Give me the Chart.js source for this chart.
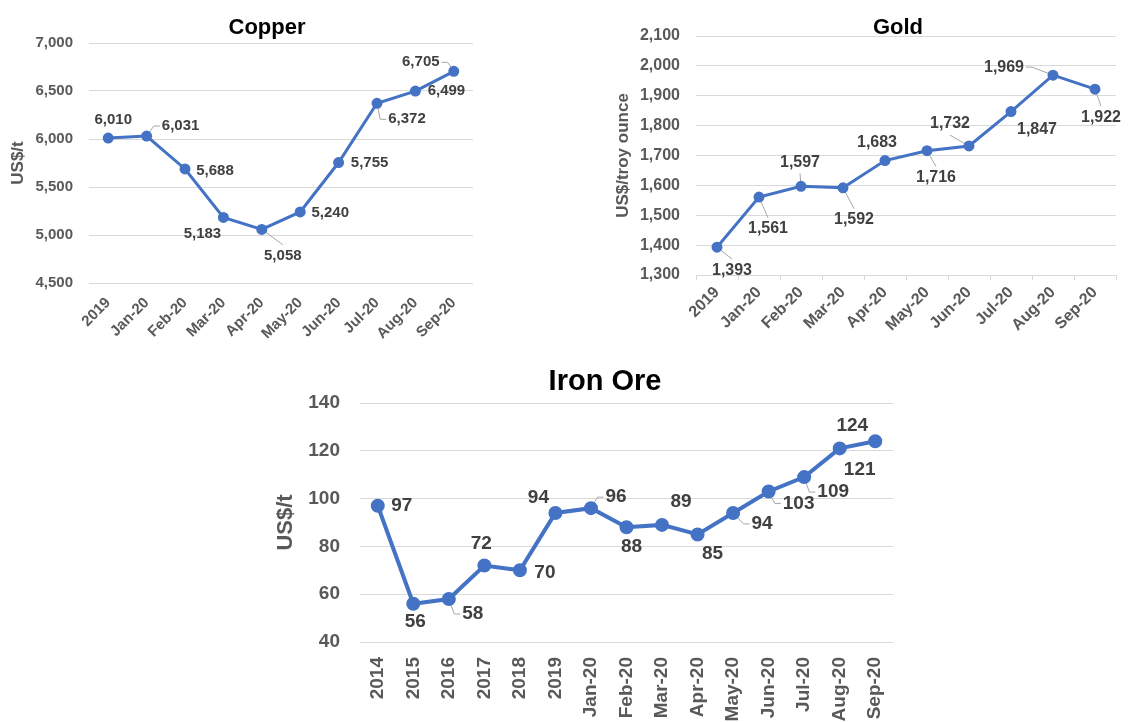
<!DOCTYPE html>
<html>
<head>
<meta charset="utf-8">
<script src="https://cdn.jsdelivr.net/npm/chart.js@4"></script>
<style>
  html, body { margin: 0; padding: 0; background: #fff; width: 1128px; height: 722px; overflow: hidden; position: relative; }
  canvas { position: absolute; }
  #copperChart { left: 0; top: 0; }
  #goldChart { left: 600px; top: 0; }
  #ironChart { left: 260px; top: 360px; }
</style>
</head>
<body>
<canvas id="copperChart" width="534" height="345"></canvas>
<canvas id="goldChart" width="596" height="345"></canvas>
<canvas id="ironChart" width="690" height="362"></canvas>
<script>
const monthLabels = ["2019", "Jan-20", "Feb-20", "Mar-20", "Apr-20", "May-20", "Jun-20", "Jul-20", "Aug-20", "Sep-20"];
const copperValues = [6010, 6031, 5688, 5183, 5058, 5240, 5755, 6372, 6499, 6705];
const goldValues = [1393, 1561, 1597, 1592, 1683, 1716, 1732, 1847, 1969, 1922];
const ironLabels = ["2014", "2015", "2016", "2017", "2018", "2019", "Jan-20", "Feb-20", "Mar-20", "Apr-20", "May-20", "Jun-20", "Jul-20", "Aug-20", "Sep-20"];
const ironValues = [97, 56, 58, 72, 70, 94, 96, 88, 89, 85, 94, 103, 109, 121, 124];

const copperTicks = [4500, 5000, 5500, 6000, 6500, 7000];
const goldTicks = [1300, 1400, 1500, 1600, 1700, 1800, 1900, 2000, 2100];
const ironTicks = [40, 60, 80, 100, 120, 140];

// where each value label sits relative to its point (dx, dy) and whether it has a leader line
const copperLabelPos = [[5, -18], [34, -10], [30, 2], [-21, 16], [21, 26], [30, 1], [31, 0], [30, 16], [31, 0], [-33, -9]];
const copperLeaders = [0, 1, 0, 0, 1, 0, 0, 1, 0, 1];
const goldLabelPos = [[15, 23], [9, 32], [-1, -24], [11, 32], [-8, -18], [9, 27], [-19, -22], [26, 18], [-49, -8], [6, 28]];
const goldLeaders = [1, 1, 1, 1, 0, 1, 1, 0, 1, 1];
const ironLabelPos = [[24, 0], [2, 18], [24, 15], [-3, -22], [25, 2], [-17, -15], [25, -11], [5, 19], [19, -23], [15, 19], [29, 11], [30, 12], [29, 15], [20, 21], [-23, -15]];
const ironLeaders = [0, 0, 1, 0, 0, 0, 1, 0, 0, 0, 1, 1, 1, 0, 0];

const FONT = "'Liberation Sans', Arial, sans-serif";
const BLUE = "#4472C4";
const GREY = "#595959";

function valueLabels(offsets, leaders, size) {
  function each(chart, fn) {
    const ctx = chart.ctx;
    const meta = chart.getDatasetMeta(0);
    const values = chart.data.datasets[0].data;
    ctx.save();
    ctx.font = "bold " + size + "px " + FONT;
    meta.data.forEach((pt, i) => {
      const text = values[i].toLocaleString("en-US");
      fn(ctx, pt, text, pt.x + offsets[i][0], pt.y + offsets[i][1], i);
    });
    ctx.restore();
  }
  return {
    id: "valueLabels",
    beforeDatasetsDraw(chart) {
      // leader lines go under the markers
      each(chart, (ctx, pt, text, cx, cy, i) => {
        if (!leaders[i]) return;
        const hw = ctx.measureText(text).width / 2;
        const hh = size * 0.45;
        ctx.strokeStyle = "#a6a6a6";
        ctx.lineWidth = 1;
        ctx.beginPath();
        if (pt.x >= cx - hw - 3 && pt.x <= cx + hw + 3) {
          const ty = pt.y < cy ? cy - hh - 4 : cy + hh + 4;
          ctx.moveTo(pt.x, pt.y);
          ctx.lineTo(cx, ty);
        } else {
          const side = pt.x < cx ? -1 : 1;
          const edge = cx + side * (hw + 2);
          const stub = edge + side * 6;
          ctx.moveTo(pt.x, pt.y);
          ctx.lineTo(stub, cy);
          ctx.lineTo(edge, cy);
        }
        ctx.stroke();
      });
    },
    afterDatasetsDraw(chart) {
      each(chart, (ctx, pt, text, cx, cy) => {
        ctx.textAlign = "center";
        ctx.textBaseline = "middle";
        ctx.fillStyle = "#404040";
        ctx.fillText(text, cx, cy);
      });
    }
  };
}

function buildChart(id, o) {
  return new Chart(document.getElementById(id), {
    type: "line",
    data: {
      labels: o.labels,
      datasets: [{
        data: o.values,
        borderColor: BLUE,
        backgroundColor: BLUE,
        borderWidth: o.lineWidth,
        pointRadius: o.pointRadius,
        pointHoverRadius: o.pointRadius,
        tension: 0
      }]
    },
    options: {
      responsive: false,
      animation: false,
      locale: "en-US",
      layout: { padding: 0 },
      plugins: {
        legend: { display: false },
        tooltip: { enabled: false },
        title: {
          display: true,
          text: o.title,
          color: "#000",
          font: { family: FONT, size: o.titleSize, weight: "bold" },
          padding: o.titlePad
        }
      },
      scales: {
        x: {
          offset: true,
          grid: o.xGrid,
          border: { display: o.xBorder, color: "#d9d9d9" },
          ticks: {
            color: GREY,
            font: { family: FONT, size: o.tickSize, weight: "bold" },
            minRotation: o.rotation,
            maxRotation: o.rotation,
            autoSkip: false,
            padding: o.xPad
          },
          afterFit: s => {
            // fixed axis band; the right gap keeps the title centred on the whole canvas
            s.height = o.xHeight;
            s.paddingLeft = 0;
            s.paddingRight = o.padRight;
          }
        },
        y: {
          min: o.ticks[0],
          max: o.ticks[o.ticks.length - 1],
          ticks: {
            stepSize: o.ticks[1] - o.ticks[0],
            color: GREY,
            font: { family: FONT, size: o.tickSize, weight: "bold" },
            padding: o.yPad
          },
          grid: { color: "#d9d9d9", drawTicks: false },
          border: { display: false },
          title: {
            display: true,
            text: o.yTitle,
            color: GREY,
            font: { family: FONT, size: o.yTitleSize, weight: "bold" },
            padding: { top: o.yTitlePad, bottom: 0 }
          },
          afterFit: s => { s.width = o.yWidth; }
        }
      }
    },
    plugins: [valueLabels(o.labelPos, o.leaders, o.labelSize)]
  });
}

buildChart("copperChart", {
  labels: monthLabels, values: copperValues, ticks: copperTicks,
  title: "Copper", titleSize: 22, titlePad: { top: 15, bottom: 1.6 },
  yTitle: "US$/t", yTitleSize: 17, yTitlePad: 8,
  tickSize: 15, labelSize: 15, rotation: 45,
  lineWidth: 3, pointRadius: 4,
  xGrid: { display: false }, xBorder: false, xPad: 3,
  xHeight: 62, yWidth: 89, yPad: 16, padRight: 61,
  labelPos: copperLabelPos, leaders: copperLeaders
});

buildChart("goldChart", {
  labels: monthLabels, values: goldValues, ticks: goldTicks,
  title: "Gold", titleSize: 22, titlePad: { top: 15, bottom: -5.4 },
  yTitle: "US$/troy ounce", yTitleSize: 17, yTitlePad: 13,
  tickSize: 16, labelSize: 16, rotation: 45,
  lineWidth: 3, pointRadius: 4,
  xGrid: { display: true, drawOnChartArea: false, drawTicks: true, tickLength: 5, color: "#d9d9d9", offset: true },
  xBorder: true, xPad: 3,
  xHeight: 70, yWidth: 96, yPad: 16, padRight: 80,
  labelPos: goldLabelPos, leaders: goldLeaders
});

buildChart("ironChart", {
  labels: ironLabels, values: ironValues, ticks: ironTicks,
  title: "Iron Ore", titleSize: 29, titlePad: { top: 4.6, bottom: 3.6 },
  yTitle: "US$/t", yTitleSize: 22, yTitlePad: 13,
  tickSize: 19, labelSize: 19, rotation: 90,
  lineWidth: 4, pointRadius: 5,
  xGrid: { display: false }, xBorder: false, xPad: 7,
  xHeight: 80, yWidth: 100, yPad: 20, padRight: 57,
  labelPos: ironLabelPos, leaders: ironLeaders
});
</script>
</body>
</html>
